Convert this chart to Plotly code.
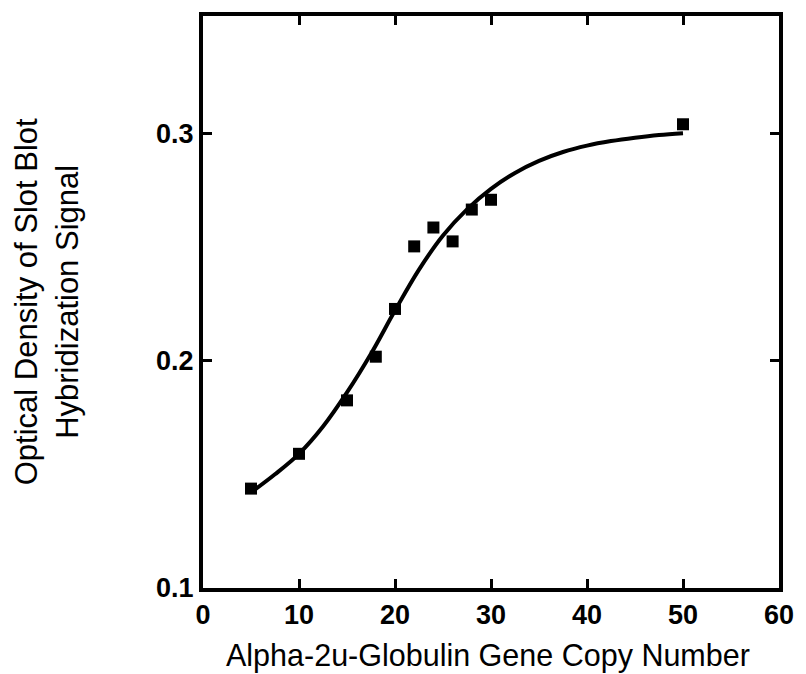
import plotly.graph_objects as go

# Measured data points
copy_number = [5, 10, 15, 18, 20, 22, 24, 26, 28, 30, 50]
optical_density = [0.1437, 0.1590, 0.1825, 0.2017, 0.2227, 0.2502, 0.2585, 0.2524, 0.2664, 0.2707, 0.3039]

# Fitted curve
fit_x = [5, 7.5, 10, 12.5, 15, 17.5, 20, 22.5, 25, 27.5, 30, 32.5, 35, 37.5, 40, 42.5, 45, 47.5, 50]
fit_y = [0.142, 0.150, 0.159, 0.171, 0.186, 0.203, 0.222, 0.240, 0.255, 0.2665, 0.2755, 0.2825,
         0.2878, 0.2917, 0.2945, 0.2965, 0.2980, 0.2992, 0.3000]

x_ticks = [0, 10, 20, 30, 40, 50, 60]
y_ticks = [0.1, 0.2, 0.3]
y_tick_labels = ["0.1", "0.2", "0.3"]

fig = go.Figure()
fig.add_trace(go.Scatter(x=fit_x, y=fit_y, mode="lines",
                         line=dict(color="black", width=4, shape="spline", smoothing=1.0),
                         showlegend=False, hoverinfo="skip"))
fig.add_trace(go.Scatter(x=copy_number, y=optical_density, mode="markers",
                         marker=dict(symbol="square", size=12, color="black"),
                         showlegend=False))

tickfont = dict(family="Liberation Sans, Arial, sans-serif", size=27, color="black", weight="bold")

fig.update_layout(
    width=806, height=674,
    margin=dict(l=203, r=16, t=12, b=86),
    paper_bgcolor="white", plot_bgcolor="white",
    xaxis=dict(range=[0, 60], tickvals=x_ticks, ticks="inside", ticklen=9, tickwidth=3,
               tickcolor="black", showline=True, linewidth=4, linecolor="black",
               mirror="ticks", showgrid=False, zeroline=False, tickfont=tickfont,
               ticklabelstandoff=0),
    yaxis=dict(range=[0.1, 0.3515], tickvals=y_ticks, ticktext=y_tick_labels,
               ticks="inside", ticklen=9, tickwidth=3, tickcolor="black",
               showline=True, linewidth=4, linecolor="black", mirror="ticks",
               showgrid=False, zeroline=False, tickfont=tickfont, ticklabelstandoff=0),
    annotations=[
        dict(text="Alpha-2u-Globulin Gene Copy Number", xref="paper", yref="paper",
             x=0.494, y=-0.118, xanchor="center", yanchor="middle", showarrow=False,
             font=dict(family="Liberation Sans, Arial, sans-serif", size=30.5, color="black")),
        dict(text="Optical Density of Slot Blot<br>Hybridization Signal", xref="paper", yref="paper",
             x=-0.272, y=0.5, xanchor="center", yanchor="middle", showarrow=False, textangle=-90,
             font=dict(family="Liberation Sans, Arial, sans-serif", size=31, color="black")),
    ],
)

fig.write_html("out.html")
